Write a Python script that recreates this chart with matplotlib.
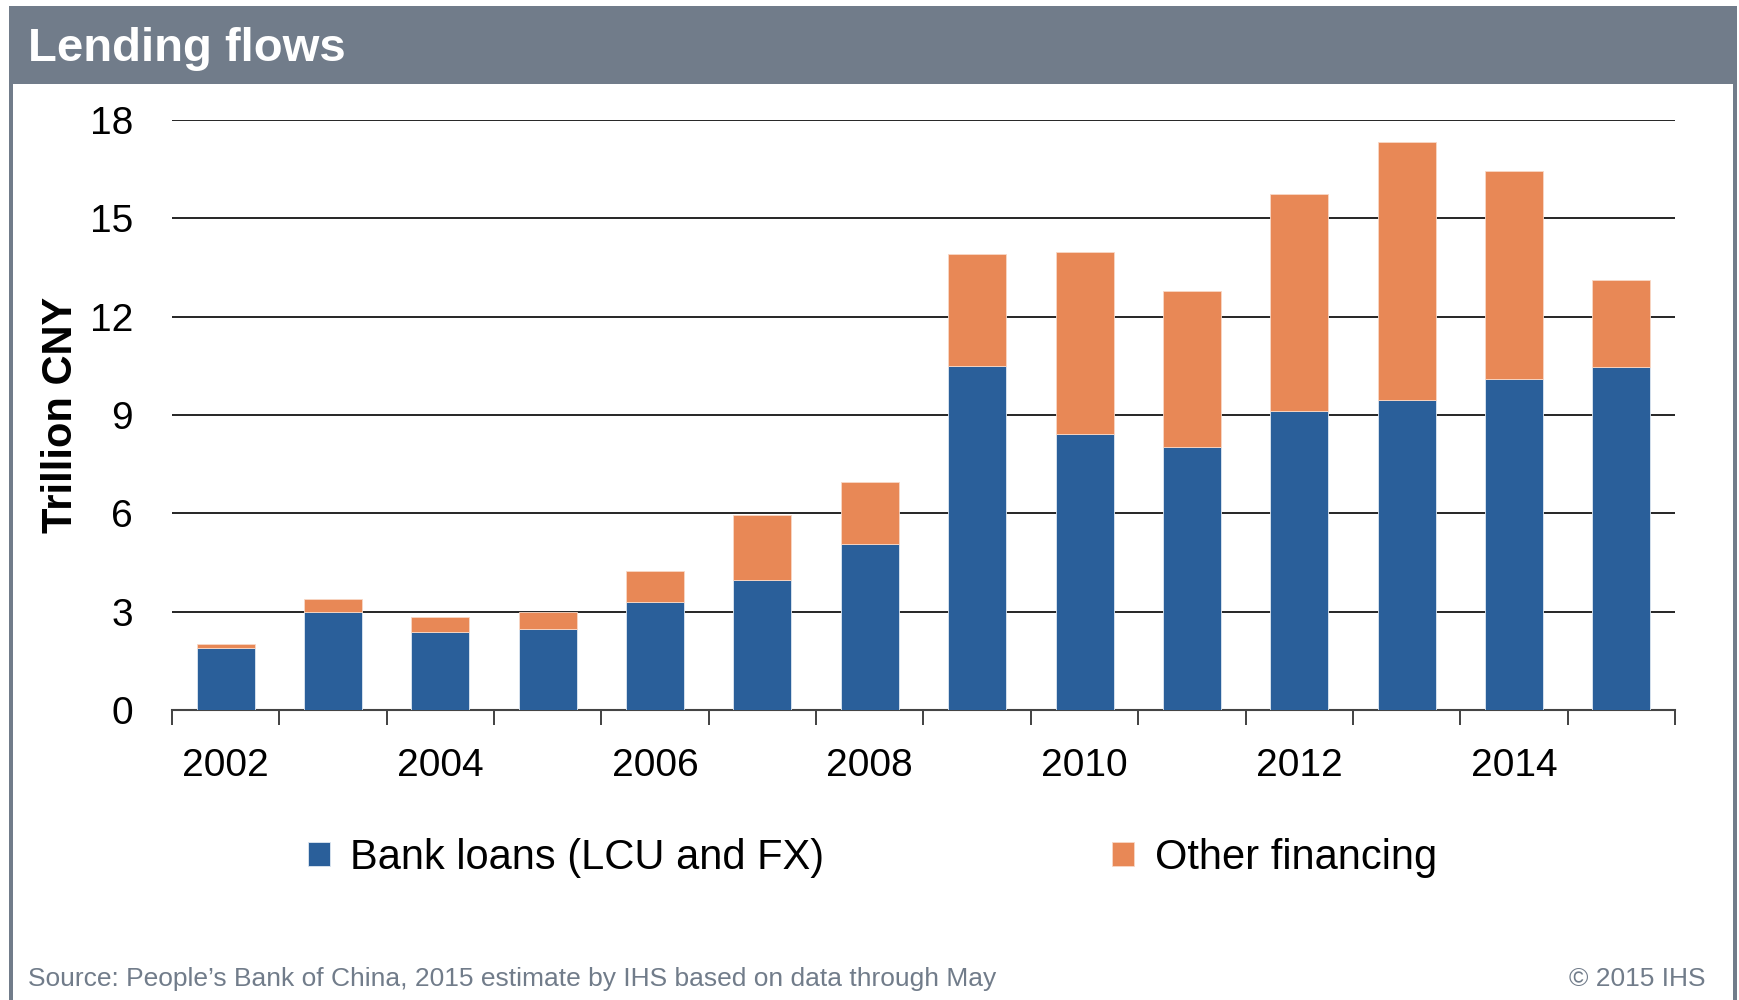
import matplotlib.pyplot as plt
import numpy as np
from matplotlib.patches import Rectangle

plt.rcParams['font.family'] = ['Liberation Sans', 'DejaVu Sans']

years = np.arange(2002, 2016)
bank_loans = np.array([1.90, 2.98, 2.38, 2.48, 3.28, 3.98, 5.07,
                       10.48, 8.41, 8.01, 9.12, 9.46, 10.10, 10.45])
other_fin = np.array([0.10, 0.40, 0.45, 0.51, 0.97, 1.96, 1.89,
                      3.42, 5.55, 4.77, 6.62, 7.86, 6.34, 2.67])
year_labels = [str(y) if y % 2 == 0 else '' for y in years]

blue = '#2A5F9A'
orange = '#E88856'
frame_grey = '#717C8A'

fig = plt.figure(figsize=(17.39, 10), dpi=100)

# header band and side borders
fig.patches.append(Rectangle((0.005, 0.916), 0.994, 0.078, transform=fig.transFigure,
                             facecolor=frame_grey, edgecolor='none', zorder=0))
fig.patches.append(Rectangle((0.005, 0.0), 0.0022, 0.92, transform=fig.transFigure,
                             facecolor=frame_grey, edgecolor='none', zorder=0))
fig.patches.append(Rectangle((0.9965, 0.0), 0.0025, 0.92, transform=fig.transFigure,
                             facecolor=frame_grey, edgecolor='none', zorder=0))
fig.text(0.016, 0.951, 'Lending flows', color='white', fontsize=34,
         fontweight='bold', va='center', ha='left')

ax = fig.add_axes([0.0989, 0.290, 0.8643, 0.590])
x = np.arange(len(years))
b1 = ax.bar(x, bank_loans, width=0.54, color=blue, edgecolor='#dfe8f2',
            linewidth=0.6, label='Bank loans (LCU and FX)', zorder=3)
b2 = ax.bar(x, other_fin, width=0.54, bottom=bank_loans, color=orange,
            edgecolor='#f8d8c6', linewidth=0.6, label='Other financing', zorder=3)

ax.set_xlim(-0.5, len(years) - 0.5)
ax.set_ylim(0, 18)
ax.set_yticks(np.arange(0, 19, 3))
ax.yaxis.grid(True, color='black', linewidth=1.2)
ax.set_axisbelow(True)
ax.tick_params(axis='y', length=0, pad=28, labelsize=28)

ax.set_xticks(np.arange(-0.5, len(years)), labels=[])
ax.set_xticks(x, labels=year_labels, minor=True)
ax.tick_params(axis='x', which='major', length=11, width=1.3, color='#333333')
ax.tick_params(axis='x', which='minor', length=0, pad=27, labelsize=28)

for side in ['top', 'right', 'left']:
    ax.spines[side].set_visible(False)
ax.spines['bottom'].set_color('#444444')
ax.spines['bottom'].set_linewidth(1.5)

ax.set_ylabel('Trillion CNY', fontsize=30, fontweight='bold', labelpad=6)

fig.legend(handles=[b1, b2], loc='center left', bbox_to_anchor=(0.1555, 0.1425),
           ncol=2, frameon=False, fontsize=30, handlelength=0.52, handleheight=0.52,
           handletextpad=0.5, columnspacing=6.9)

fig.text(0.016, 0.021, 'Source: People\u2019s Bank of China, 2015 estimate by IHS based on data through May',
         color=frame_grey, fontsize=19, va='center', ha='left')
fig.text(0.981, 0.021, '\u00a9 2015 IHS', color=frame_grey, fontsize=19,
         va='center', ha='right')

fig.savefig('out.png', dpi=100)
